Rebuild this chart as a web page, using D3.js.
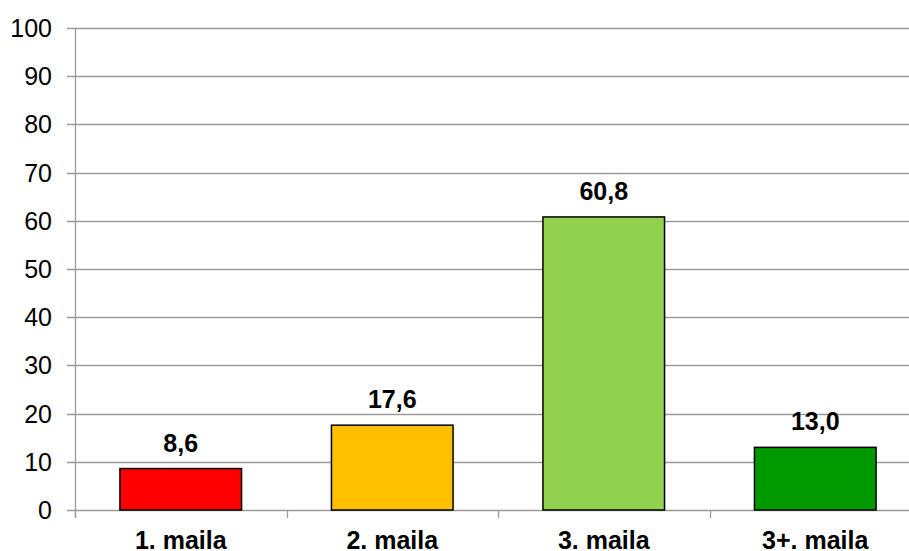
<!DOCTYPE html>
<html>
<head>
<meta charset="utf-8">
<script src="https://cdn.jsdelivr.net/npm/d3@7"></script>
<style>
  body { margin: 0; background: #fff; overflow: hidden; }
  text { font-family: Arial, "Liberation Sans", sans-serif; fill: #000; }
</style>
</head>
<body>
<svg id="chart" width="909" height="551"></svg>
<script>
// data
const categories = ['1. maila', '2. maila', '3. maila', '3+. maila'];
const values = [8.6, 17.6, 60.8, 13.0];
const barColors = ['#FF0000', '#FFC000', '#92D050', '#009900'];
const yTicks = [0, 10, 20, 30, 40, 50, 60, 70, 80, 90, 100];

const margin = {top: 28, left: 75, bottom: 41};
const plotW = 846, plotH = 551 - margin.top - margin.bottom; // plot runs past the right edge, as in the reference

const svg = d3.select('#chart');
const g = svg.append('g').attr('transform', `translate(${margin.left},${margin.top})`);

const x = d3.scaleBand().domain(categories).range([0, plotW]).paddingInner(0.425).paddingOuter(0.2125);
const y = d3.scaleLinear().domain([0, 100]).range([plotH, 0]);

// gridlines + y ticks
g.append('g').selectAll('line').data(yTicks).join('line')
  .attr('x1', -8).attr('x2', plotW)
  .attr('y1', d => Math.round(y(d)) + 0.5).attr('y2', d => Math.round(y(d)) + 0.5)
  .attr('stroke', '#9a9a9a').attr('stroke-width', 1.3);

g.append('g').selectAll('text').data(yTicks).join('text')
  .attr('x', -23).attr('y', d => y(d)).attr('dy', '0.36em')
  .attr('text-anchor', 'end').style('font-size', '25px')
  .text(d => d);

// y axis line
g.append('line').attr('x1', 0.5).attr('x2', 0.5).attr('y1', 0).attr('y2', plotH + 8)
  .attr('stroke', '#9a9a9a').attr('stroke-width', 1.3);

// x category ticks
const step = x.step();
g.append('g').selectAll('line').data(d3.range(categories.length + 1)).join('line')
  .attr('x1', i => Math.round(i * step) + 0.5).attr('x2', i => Math.round(i * step) + 0.5)
  .attr('y1', plotH).attr('y2', plotH + 8)
  .attr('stroke', '#9a9a9a').attr('stroke-width', 1.3);

// bars
g.append('g').selectAll('rect').data(values).join('rect')
  .attr('x', (d, i) => x(categories[i]))
  .attr('y', d => y(d))
  .attr('width', x.bandwidth())
  .attr('height', d => plotH - y(d))
  .attr('fill', (d, i) => barColors[i])
  .attr('stroke', '#000').attr('stroke-width', 1.5);

// value labels
g.append('g').selectAll('text').data(values).join('text')
  .attr('x', (d, i) => x(categories[i]) + x.bandwidth() / 2)
  .attr('y', d => y(d) - 17)
  .attr('text-anchor', 'middle').style('font-size', '25px').style('font-weight', 'bold')
  .text(d => d3.format('.1f')(d).replace('.', ','));

// category labels
g.append('g').selectAll('text').data(categories).join('text')
  .attr('x', d => x(d) + x.bandwidth() / 2)
  .attr('y', plotH + 39)
  .attr('text-anchor', 'middle').style('font-size', '25px').style('font-weight', 'bold')
  .text(d => d);
</script>
</body>
</html>
